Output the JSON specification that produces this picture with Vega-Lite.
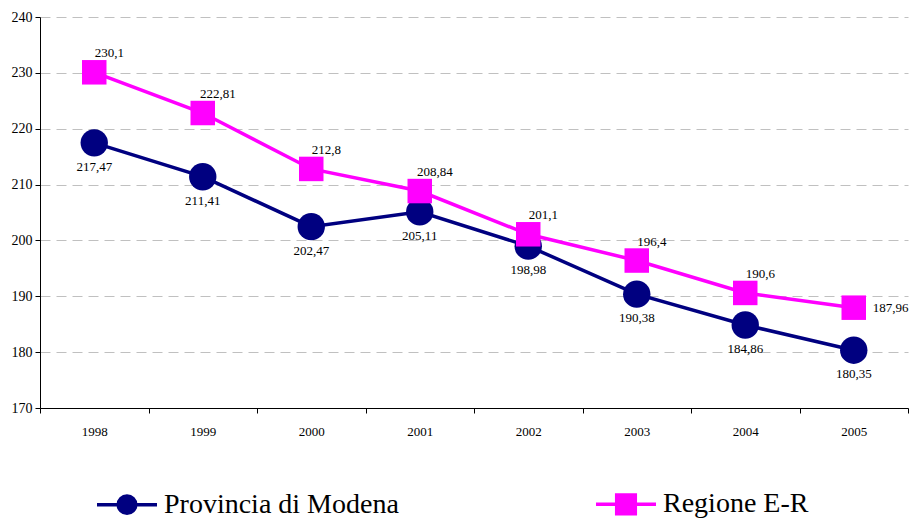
{
  "$schema": "https://vega.github.io/schema/vega-lite/v6.json",
  "width": 868,
  "height": 391,
  "autosize": "none",
  "padding": {"left": 40, "top": 17, "right": 1, "bottom": 114},
  "background": "white",
  "config": {
    "view": {"stroke": null},
    "font": "Liberation Serif",
    "locale": {"number": {"decimal": ",", "thousands": ".", "grouping": [3], "currency": ["€", ""]}}
  },
  "data": {
    "values": [
      {"anno": "1998", "serie": "Provincia di Modena", "valore": 217.47},
      {"anno": "1999", "serie": "Provincia di Modena", "valore": 211.41},
      {"anno": "2000", "serie": "Provincia di Modena", "valore": 202.47},
      {"anno": "2001", "serie": "Provincia di Modena", "valore": 205.11},
      {"anno": "2002", "serie": "Provincia di Modena", "valore": 198.98},
      {"anno": "2003", "serie": "Provincia di Modena", "valore": 190.38},
      {"anno": "2004", "serie": "Provincia di Modena", "valore": 184.86},
      {"anno": "2005", "serie": "Provincia di Modena", "valore": 180.35},
      {"anno": "1998", "serie": "Regione E-R", "valore": 230.1},
      {"anno": "1999", "serie": "Regione E-R", "valore": 222.81},
      {"anno": "2000", "serie": "Regione E-R", "valore": 212.8},
      {"anno": "2001", "serie": "Regione E-R", "valore": 208.84},
      {"anno": "2002", "serie": "Regione E-R", "valore": 201.1},
      {"anno": "2003", "serie": "Regione E-R", "valore": 196.4},
      {"anno": "2004", "serie": "Regione E-R", "valore": 190.6},
      {"anno": "2005", "serie": "Regione E-R", "valore": 187.96}
    ]
  },
  "encoding": {
    "x": {
      "field": "anno",
      "type": "ordinal",
      "scale": {"type": "band", "paddingInner": 0, "paddingOuter": 0},
      "axis": {
        "title": null,
        "labelAngle": 0,
        "tickBand": "extent",
        "domainColor": "black",
        "tickColor": "black",
        "tickSize": 5,
        "labelFont": "Liberation Serif",
        "labelFontSize": 13,
        "labelColor": "black",
        "labelPadding": 12
      }
    },
    "y": {
      "field": "valore",
      "type": "quantitative",
      "scale": {"domain": [170, 240], "nice": false, "zero": false},
      "axis": {
        "title": null,
        "values": [170, 180, 190, 200, 210, 220, 230, 240],
        "domainColor": "black",
        "tickColor": "black",
        "tickSize": 5,
        "labelFont": "Liberation Serif",
        "labelFontSize": 14,
        "labelColor": "black",
        "labelPadding": 3,
        "grid": true,
        "gridColor": "#c0c0c0",
        "gridDash": [10, 6],
        "gridWidth": 1
      }
    }
  },
  "layer": [
    {
      "mark": {"type": "line", "strokeWidth": 3.5},
      "encoding": {
        "color": {
          "field": "serie",
          "type": "nominal",
          "scale": {"domain": ["Provincia di Modena", "Regione E-R"], "range": ["#000080", "#FF00FF"]},
          "legend": {
            "title": null,
            "orient": "none",
            "direction": "horizontal",
            "legendX": 70,
            "legendY": 470,
            "symbolSize": 900,
            "symbolStrokeWidth": 3.5,
            "labelFont": "Liberation Serif",
            "labelFontSize": 28,
            "labelColor": "black",
            "labelOffset": 20,
            "labelLimit": 400,
            "columnPadding": 190,
            "encode": {
              "symbols": {
                "update": {
                  "shape": {"signal": "datum.value === 'Regione E-R' ? 'M-2,0L2,0M-0.62,-0.62L0.62,-0.62L0.62,0.62L-0.62,0.62Z' : 'M-2,0L2,0M-0.58,0A0.58,0.58,0,1,1,0.58,0A0.58,0.58,0,1,1,-0.58,0Z'"},
                  "fill": {"signal": "datum.value === 'Regione E-R' ? '#FF00FF' : '#000080'"},
                  "stroke": {"signal": "datum.value === 'Regione E-R' ? '#FF00FF' : '#000080'"},
                  "fillOpacity": {"value": 1}
                }
              }
            }
          }
        }
      }
    },
    {
      "transform": [{"filter": "datum.serie === 'Provincia di Modena'"}],
      "mark": {"type": "point", "shape": "circle", "filled": true, "size": 750, "opacity": 1, "color": "#000080"}
    },
    {
      "transform": [{"filter": "datum.serie === 'Regione E-R'"}],
      "mark": {"type": "point", "shape": "square", "filled": true, "size": 600, "opacity": 1, "color": "#FF00FF"}
    },
    {
      "transform": [{"filter": "datum.serie === 'Provincia di Modena'"}],
      "mark": {"type": "text", "dy": 24, "fontSize": 13, "color": "black"},
      "encoding": {"text": {"field": "valore", "type": "quantitative", "format": "~g"}}
    },
    {
      "transform": [{"filter": "datum.serie === 'Regione E-R' && datum.anno !== '2005'"}],
      "mark": {"type": "text", "dx": 15, "dy": -19, "fontSize": 13, "color": "black"},
      "encoding": {"text": {"field": "valore", "type": "quantitative", "format": "~g"}}
    },
    {
      "transform": [{"filter": "datum.serie === 'Regione E-R' && datum.anno === '2005'"}],
      "mark": {"type": "text", "dx": 19, "dy": 0, "align": "left", "fontSize": 13, "color": "black"},
      "encoding": {"text": {"field": "valore", "type": "quantitative", "format": "~g"}}
    }
  ]
}
